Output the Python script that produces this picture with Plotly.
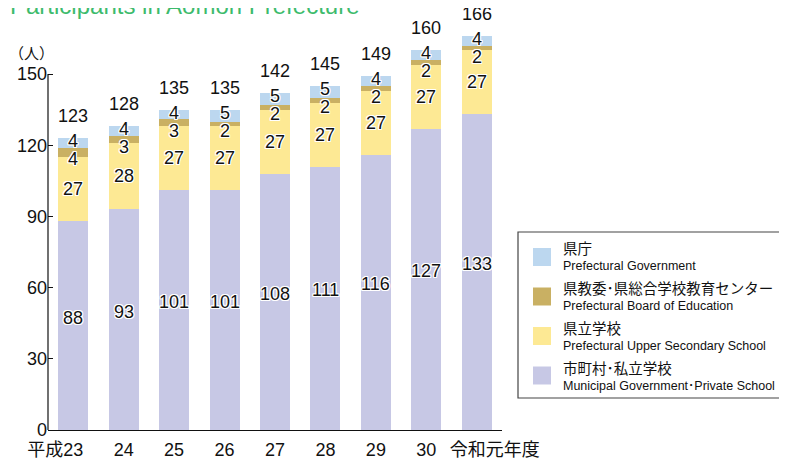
import plotly.graph_objects as go

# ---------------- data ----------------
categories = ["平成23", "24", "25", "26", "27", "28", "29", "30", "令和元年度"]
municipal_private = [88, 93, 101, 101, 108, 111, 116, 127, 133]
pref_school = [27, 28, 27, 27, 27, 27, 27, 27, 27]
pref_board = [4, 3, 3, 2, 2, 2, 2, 2, 2]
pref_gov = [4, 4, 4, 5, 5, 5, 4, 4, 4]
y_ticks = [0, 30, 60, 90, 120, 150]

series_jp = ["県庁", "県教委･県総合学校教育センター", "県立学校", "市町村･私立学校"]
series_en = ["Prefectural Government", "Prefectural Board of Education",
             "Prefectural Upper Secondary School", "Municipal Government･Private School"]
title_text = "Participants in Aomori Prefecture"
unit_text = "（人）"

# ---------------- styling ----------------
C_GOV = "#bcd7ef"
C_BOARD = "#c9b063"
C_SCHOOL = "#fde994"
C_MUNI = "#c7c8e5"
colors = [C_GOV, C_BOARD, C_SCHOOL, C_MUNI]
FONT = "Liberation Sans, Arial, Noto Sans CJK JP, sans-serif"
OFF = 8                      # page body margin offset
WIN_W, WIN_H = 787, 459
W, H = WIN_W - OFF, WIN_H - OFF
# plot area in window pixels
WL, WR, WT, WB = 48, 502, 27, 430
L, R, T, B = WL - OFF, WR - OFF, WT - OFF, WB - OFF
PX_PER_UNIT = 2.373


def px(x):
    """window x pixel -> paper x"""
    return (x - WL) / (WR - WL)


def py(y):
    """window y pixel -> paper y"""
    return (WB - y) / (WB - WT)


SH = ",".join(f"{a}px {b}px 0 #fff" for a in (-1, 0, 1) for b in (-1, 0, 1) if (a, b) != (0, 0))

xs = list(range(len(categories)))

fig = go.Figure()
for vals, col in [(municipal_private, C_MUNI), (pref_school, C_SCHOOL),
                  (pref_board, C_BOARD), (pref_gov, C_GOV)]:
    fig.add_trace(go.Bar(x=xs, y=vals, marker=dict(color=col, line=dict(width=0)),
                         showlegend=False, hoverinfo="skip"))

totals = [a + b + c + d for a, b, c, d in zip(municipal_private, pref_school, pref_board, pref_gov)]

ann = []
lab_font = dict(family=FONT, size=18, color="#111", shadow=SH)
for i in xs:
    m, s, bd, g, t = municipal_private[i], pref_school[i], pref_board[i], pref_gov[i], totals[i]
    ann.append(dict(x=i, y=t, text=str(t), showarrow=False, yanchor="middle", yshift=22,
                    font=dict(family=FONT, size=18, color="#111")))
    ann.append(dict(x=i, y=t, text=str(g), showarrow=False, yanchor="middle", yshift=-3, font=lab_font))
    ann.append(dict(x=i, y=t, text=str(bd), showarrow=False, yanchor="middle", yshift=-21, font=lab_font))
    ann.append(dict(x=i, y=m + s / 2, text=str(s), showarrow=False, yanchor="middle", font=lab_font))
    ann.append(dict(x=i, y=m / 2, text=str(m), showarrow=False, yanchor="middle", yshift=8, font=lab_font))

# title (cut off at top) and unit
ann.append(dict(xref="paper", yref="paper", x=px(8), y=py(21), xanchor="left", yanchor="bottom",
                text=title_text, showarrow=False, font=dict(family=FONT, size=24, color="#3dbb6c")))
ann.append(dict(xref="paper", yref="paper", x=px(31), y=py(54), xanchor="center", yanchor="middle",
                text=unit_text, showarrow=False, font=dict(family=FONT, size=15, color="#111")))

shapes = []
# y axis line (0..150 only)
shapes.append(dict(type="line", xref="paper", yref="y", x0=0, x1=0, y0=0, y1=y_ticks[-1],
                   line=dict(color="#111", width=1.2)))
# legend box
shapes.append(dict(type="rect", xref="paper", yref="paper", x0=px(518), x1=px(805), y0=py(232), y1=py(398),
                   line=dict(color="#444", width=1.2), fillcolor="rgba(0,0,0,0)"))
for i, (jp, en, col) in enumerate(zip(series_jp, series_en, colors)):
    cy = 257 + 39.5 * i
    shapes.append(dict(type="rect", xref="paper", yref="paper", x0=px(533), x1=px(551),
                       y0=py(cy - 9), y1=py(cy + 9), line=dict(width=0), fillcolor=col))
    ann.append(dict(xref="paper", yref="paper", x=px(561), y=py(249 + 40 * i), xanchor="left",
                    yanchor="middle", text=jp, showarrow=False,
                    font=dict(family=FONT, size=14.5, color="#111")))
    ann.append(dict(xref="paper", yref="paper", x=px(561), y=py(266 + 40 * i), xanchor="left",
                    yanchor="middle", text=en, showarrow=False,
                    font=dict(family=FONT, size=12.5, color="#111")))

# tick texts: centre the numeric part under each bar
HID = "<span style='color:rgba(0,0,0,0)'>{}</span>"
ticktext = list(categories)
ticktext[0] = categories[0] + HID.format("平成")
ticktext[-1] = HID.format("年度") + categories[-1]

fig.update_layout(
    width=W, height=H,
    margin=dict(l=L, r=W - R, t=T, b=H - B, pad=0, autoexpand=False),
    paper_bgcolor="white", plot_bgcolor="white",
    barmode="stack", bargap=0.405,
    font=dict(family=FONT, size=18, color="#111"),
    annotations=ann, shapes=shapes,
    xaxis=dict(tickmode="array", tickvals=xs, ticktext=ticktext, tickangle=0, automargin=False,
               showline=True, linecolor="#111", linewidth=1.2, ticklabelstandoff=3,
               ticks="", showgrid=False, zeroline=False, range=[-0.5, len(categories) - 0.5],
               tickfont=dict(family=FONT, size=18, color="#111")),
    yaxis=dict(range=[0, (B - T) / PX_PER_UNIT], tickvals=y_ticks, ticks="inside", ticklen=5,
               automargin=False,
               tickcolor="#111", tickwidth=1.2, showline=False, showgrid=False, zeroline=False,
               tickfont=dict(family=FONT, size=18, color="#111")),
)

fig.write_html("out.html")
